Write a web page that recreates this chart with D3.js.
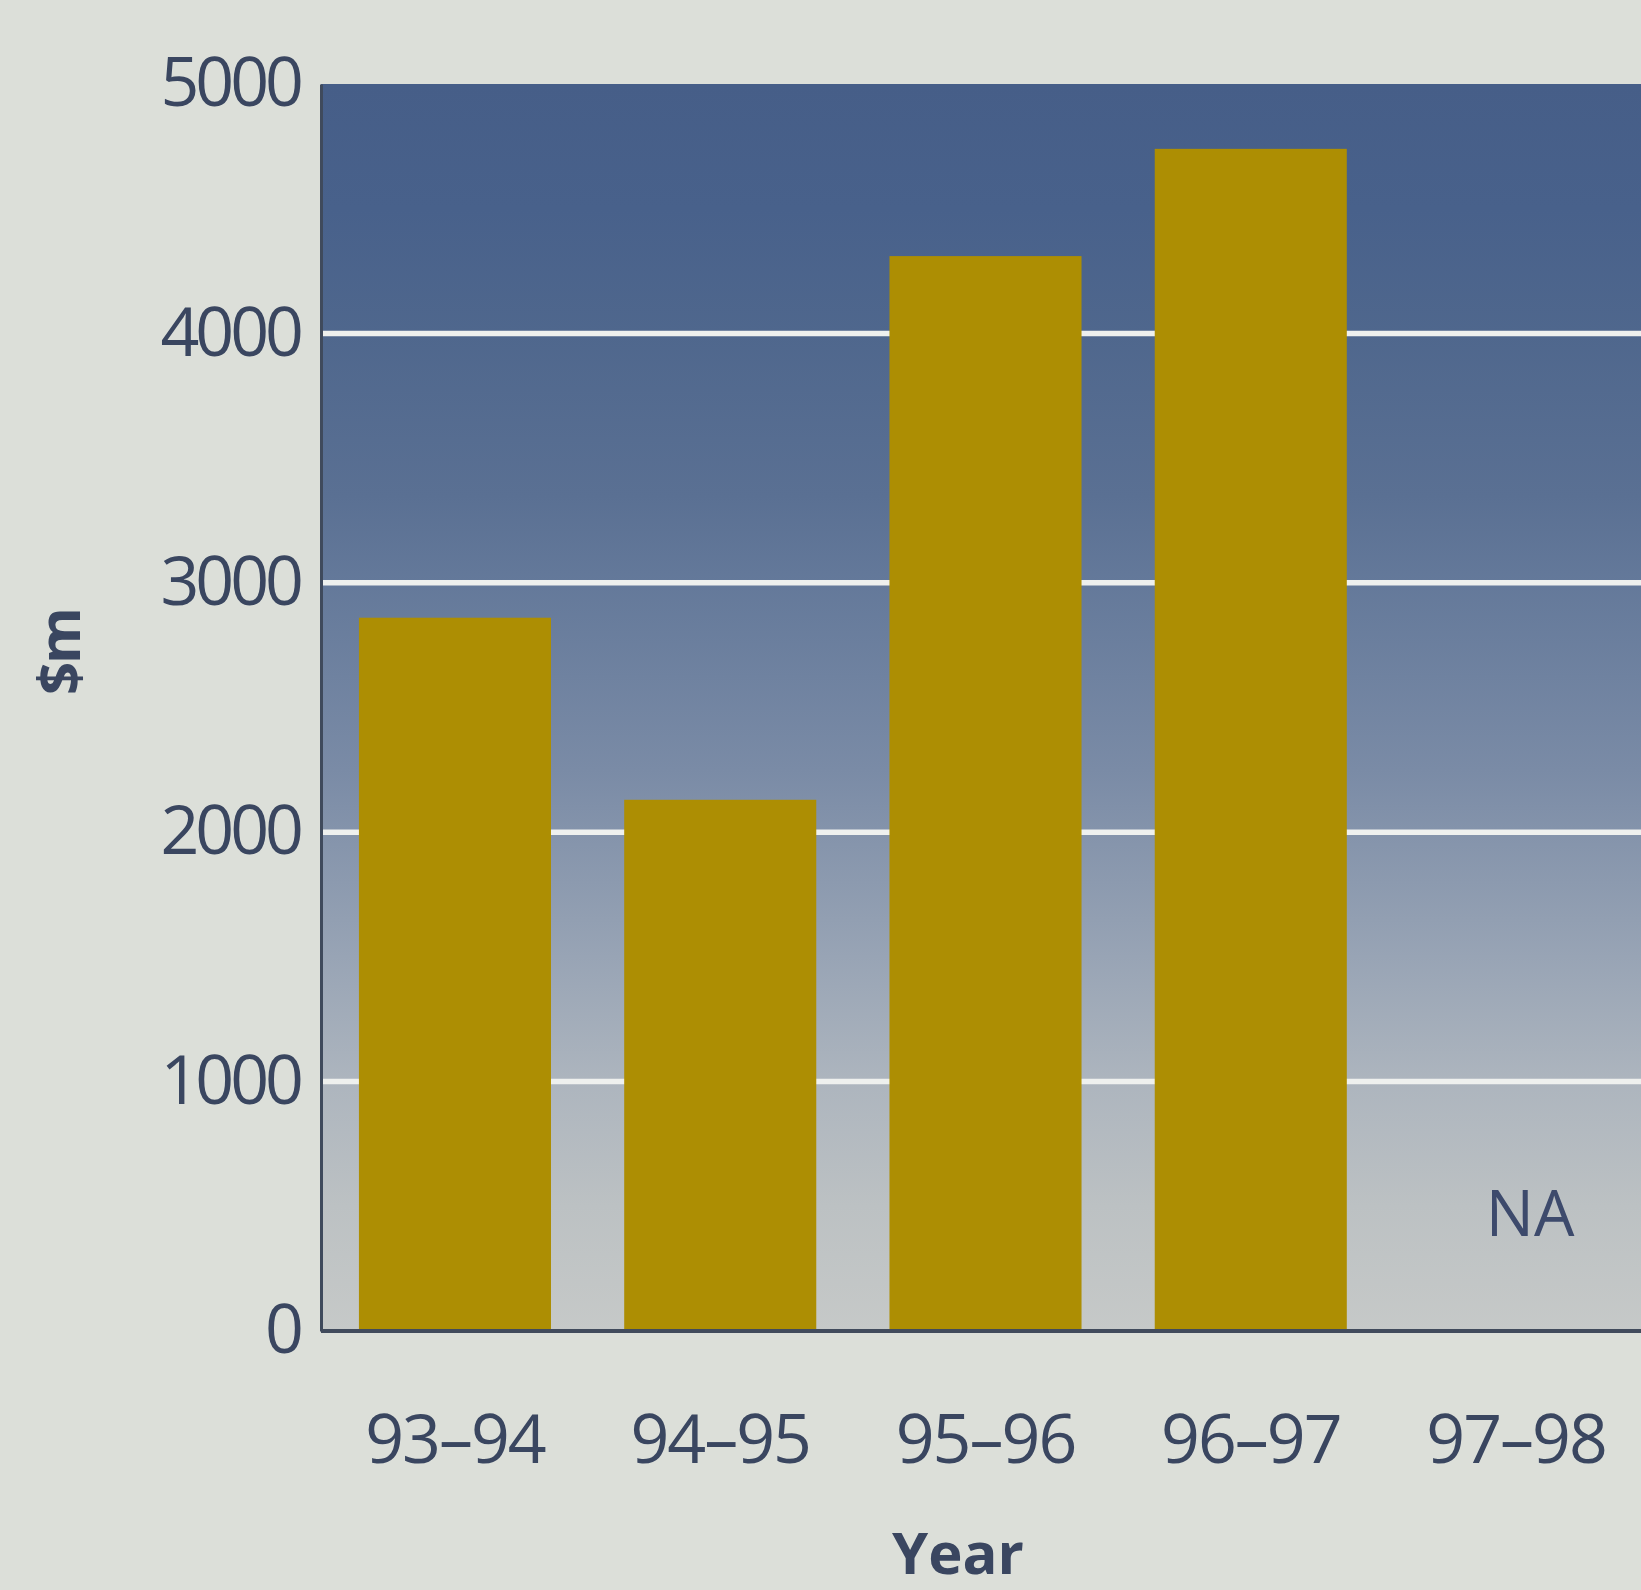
<!DOCTYPE html>
<html>
<head>
<meta charset="utf-8">
<script src="https://cdn.jsdelivr.net/npm/d3@7"></script>
<style>
  html, body { margin: 0; padding: 0; background: #dcdfd9; overflow: hidden; }
  svg { display: block; }
  text { font-family: "Open Sans", "Noto Sans", sans-serif; fill: #3a4660; }
</style>
</head>
<body>
<script>
// Annual spending, $m, by financial year (97–98 not available)
const years = ["93–94", "94–95", "95–96", "96–97", "97–98"];
const spending = [2860, 2130, 4310, 4740, null];
const yTicks = [0, 1000, 2000, 3000, 4000, 5000];
const gridValues = [1000, 2000, 3000, 4000];
const naLabel = "NA";

const W = 1641, H = 1590;
const margin = { top: 84, left: 321 };
const plotRight = 1650, plotBottom = 1331;

const svg = d3.select("body").append("svg")
  .attr("width", W).attr("height", H);

const x = d3.scaleBand()
  .domain(years)
  .range([margin.left, plotRight])
  .paddingInner(0.276)
  .paddingOuter(0.143);

const y = d3.scaleLinear()
  .domain([0, 5000])
  .range([plotBottom, margin.top]);

// plot background: dark blue fading to grey towards the baseline
const grad = svg.append("defs").append("linearGradient")
  .attr("id", "plotBg").attr("x1", 0).attr("y1", 0).attr("x2", 0).attr("y2", 1);
[[0, "#465e88"], [0.1, "#48618b"], [0.2, "#4f678d"], [0.33, "#5a7093"],
 [0.4, "#64799a"], [0.55, "#7a8ba6"], [0.7, "#98a4b5"], [0.8, "#adb5be"],
 [0.9, "#bcc1c3"], [1, "#c6c9c8"]].forEach(([o, c]) =>
  grad.append("stop").attr("offset", o).attr("stop-color", c));

svg.append("rect")
  .attr("x", margin.left).attr("y", y(5000))
  .attr("width", plotRight - margin.left).attr("height", y(0) - y(5000))
  .attr("fill", "url(#plotBg)");

// white horizontal gridlines
svg.append("g").selectAll("line").data(gridValues).join("line")
  .attr("x1", margin.left).attr("x2", plotRight)
  .attr("y1", d => y(d)).attr("y2", d => y(d))
  .attr("stroke", "#eef0ee").attr("stroke-width", 5.5);

// bars
svg.append("g").selectAll("rect")
  .data(years.map((k, i) => ({ k, v: spending[i] })).filter(d => d.v != null))
  .join("rect")
  .attr("x", d => x(d.k))
  .attr("width", x.bandwidth())
  .attr("y", d => y(d.v))
  .attr("height", d => y(0) - y(d.v))
  .attr("fill", "#ad8e03");

// "NA" marker for the missing year
years.forEach((k, i) => {
  if (spending[i] == null) {
    svg.append("text")
      .attr("x", x(k) + x.bandwidth() / 2 + 14)
      .attr("y", y(470))
      .attr("dy", "0.35em")
      .attr("text-anchor", "middle")
      .attr("font-size", 64)
      .style("fill", "#3d4a6c")
      .text(naLabel);
  }
});

// y axis
const yAxis = svg.append("g")
  .attr("transform", `translate(${margin.left},0)`)
  .call(d3.axisLeft(y).tickValues(yTicks).tickSize(0).tickPadding(21).tickFormat(d3.format("d")));
yAxis.select(".domain").attr("stroke", "#3f4a5c").attr("stroke-width", 3);
yAxis.selectAll("text")
  .attr("font-size", 68).attr("letter-spacing", -4)
  .style("font-family", "'Open Sans', sans-serif").style("fill", "#3a4660");

// x axis
const xAxis = svg.append("g")
  .attr("transform", `translate(0,${plotBottom})`)
  .call(d3.axisBottom(x).tickSize(0).tickPadding(0));
xAxis.select(".domain").attr("stroke", "#414b5c").attr("stroke-width", 4)
  .attr("d", `M${margin.left},0H${plotRight}`);
xAxis.selectAll("text")
  .attr("y", 108).attr("dy", "0.35em")
  .attr("font-size", 68).attr("letter-spacing", -2)
  .style("font-family", "'Open Sans', sans-serif").style("fill", "#3a4660");

// axis titles
svg.append("text")
  .attr("transform", "translate(80,652) rotate(-90)")
  .attr("text-anchor", "middle")
  .attr("font-size", 58).attr("font-weight", "bold").attr("letter-spacing", -2)
  .text("$m");

svg.append("text")
  .attr("x", 958).attr("y", 1574)
  .attr("text-anchor", "middle")
  .attr("font-size", 58).attr("font-weight", "bold")
  .text("Year");
</script>
</body>
</html>
